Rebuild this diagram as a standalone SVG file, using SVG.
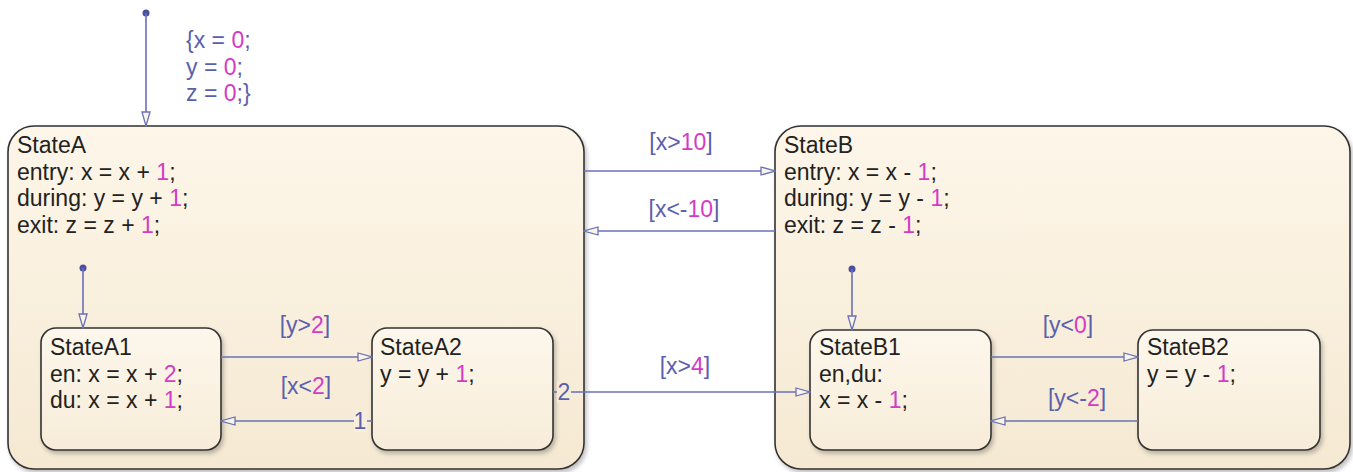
<svg xmlns="http://www.w3.org/2000/svg" width="1353" height="472" viewBox="0 0 1353 472">
<defs>
<linearGradient id="gOuter" x1="0" y1="0" x2="0" y2="1">
<stop offset="0" stop-color="#fdf6e9"/>
<stop offset="1" stop-color="#f5e9d2"/>
</linearGradient>
<linearGradient id="gInner" x1="0" y1="0" x2="0" y2="1">
<stop offset="0" stop-color="#fdf7ec"/>
<stop offset="1" stop-color="#f7ecd8"/>
</linearGradient>
<filter id="shadow" x="-5%" y="-5%" width="110%" height="115%">
<feDropShadow dx="2" dy="3" stdDeviation="2" flood-color="#000" flood-opacity="0.25"/>
</filter>
<marker id="arr" markerUnits="userSpaceOnUse" markerWidth="16" markerHeight="10" refX="15" refY="5" orient="auto">
<path d="M1,1 L15,5 L1,9 Z" fill="#fbf4e6" stroke="#6a70b8" stroke-width="1.3"/>
</marker>
</defs>
<style>
.state{stroke:#333;stroke-width:1.6;filter:url(#shadow)}
.outer{fill:url(#gOuter)}
.inner{fill:url(#gInner)}
.t{font-family:"Liberation Sans",Arial,sans-serif;font-size:23px;fill:#222}
.lbl{font-family:"Liberation Sans",Arial,sans-serif;font-size:23px;fill:#5b60ad}
.num{fill:#d23cc4}
.conn{stroke:#6a70b8;stroke-width:1.6;fill:none}
.dot{fill:#4a4fa0}
</style>

<g id="StateA">
<rect class="state outer" x="8" y="126" width="576" height="343" rx="26"/>
<text class="t" x="17" y="153">StateA</text>
<text class="t" x="17" y="179.5">entry: x = x + <tspan class="num">1</tspan>;</text>
<text class="t" x="17" y="206">during: y = y + <tspan class="num">1</tspan>;</text>
<text class="t" x="17" y="232.5">exit: z = z + <tspan class="num">1</tspan>;</text>
</g>

<g id="StateB">
<rect class="state outer" x="775" y="126" width="575" height="343" rx="26"/>
<text class="t" x="784" y="153">StateB</text>
<text class="t" x="784" y="179.5">entry: x = x - <tspan class="num">1</tspan>;</text>
<text class="t" x="784" y="206">during: y = y - <tspan class="num">1</tspan>;</text>
<text class="t" x="784" y="232.5">exit: z = z - <tspan class="num">1</tspan>;</text>
</g>

<g id="StateA1">
<rect class="state inner" x="41" y="328" width="180" height="122" rx="15"/>
<text class="t" x="50" y="355">StateA1</text>
<text class="t" x="50" y="381.5">en: x = x + <tspan class="num">2</tspan>;</text>
<text class="t" x="50" y="408">du: x = x + <tspan class="num">1</tspan>;</text>
</g>

<g id="StateA2">
<rect class="state inner" x="372" y="328" width="181" height="122" rx="15"/>
<text class="t" x="380" y="355">StateA2</text>
<text class="t" x="380" y="381.5">y = y + <tspan class="num">1</tspan>;</text>
</g>

<g id="StateB1">
<rect class="state inner" x="810" y="330" width="181" height="120" rx="15"/>
<text class="t" x="819" y="355">StateB1</text>
<text class="t" x="819" y="381.5">en,du:</text>
<text class="t" x="819" y="408">x = x - <tspan class="num">1</tspan>;</text>
</g>

<g id="StateB2">
<rect class="state inner" x="1138" y="330" width="182" height="120" rx="15"/>
<text class="t" x="1147" y="355">StateB2</text>
<text class="t" x="1147" y="381.5">y = y - <tspan class="num">1</tspan>;</text>
</g>

<g id="connectors">
<circle class="dot" cx="146" cy="13" r="3.5"/>
<line class="conn" x1="146" y1="13" x2="146" y2="126" marker-end="url(#arr)"/>
<text class="lbl" x="186" y="48">{x = <tspan class="num">0</tspan>;</text>
<text class="lbl" x="186" y="74.5">y = <tspan class="num">0</tspan>;</text>
<text class="lbl" x="186" y="101">z = <tspan class="num">0</tspan>;}</text>

<line class="conn" x1="584" y1="171" x2="775" y2="171" marker-end="url(#arr)"/>
<text class="lbl" x="681" y="150" text-anchor="middle">[x&gt;<tspan class="num">10</tspan>]</text>
<line class="conn" x1="775" y1="231" x2="584" y2="231" marker-end="url(#arr)"/>
<text class="lbl" x="684" y="217" text-anchor="middle">[x&lt;-<tspan class="num">10</tspan>]</text>

<circle class="dot" cx="83" cy="268" r="3.5"/>
<line class="conn" x1="83" y1="268" x2="83" y2="328" marker-end="url(#arr)"/>

<line class="conn" x1="221" y1="357" x2="372" y2="357" marker-end="url(#arr)"/>
<text class="lbl" x="305" y="333" text-anchor="middle">[y&gt;<tspan class="num">2</tspan>]</text>
<line class="conn" x1="372" y1="421" x2="221" y2="421" marker-end="url(#arr)"/>
<text class="lbl" x="306" y="394" text-anchor="middle">[x&lt;<tspan class="num">2</tspan>]</text>
<rect x="354" y="410" width="13" height="22" fill="#f8eedd"/>
<text class="lbl" x="360" y="429" text-anchor="middle">1</text>

<line class="conn" x1="553" y1="392" x2="810" y2="392" marker-end="url(#arr)"/>
<rect x="557" y="381" width="14" height="22" fill="#f6ebd7"/>
<text class="lbl" x="564" y="400" text-anchor="middle">2</text>
<text class="lbl" x="685" y="374" text-anchor="middle">[x&gt;<tspan class="num">4</tspan>]</text>

<circle class="dot" cx="852" cy="269" r="3.5"/>
<line class="conn" x1="852" y1="269" x2="852" y2="330" marker-end="url(#arr)"/>

<line class="conn" x1="991" y1="357" x2="1138" y2="357" marker-end="url(#arr)"/>
<text class="lbl" x="1068" y="333" text-anchor="middle">[y&lt;<tspan class="num">0</tspan>]</text>
<line class="conn" x1="1138" y1="421" x2="991" y2="421" marker-end="url(#arr)"/>
<text class="lbl" x="1077" y="406" text-anchor="middle">[y&lt;-<tspan class="num">2</tspan>]</text>
</g>
</svg>
